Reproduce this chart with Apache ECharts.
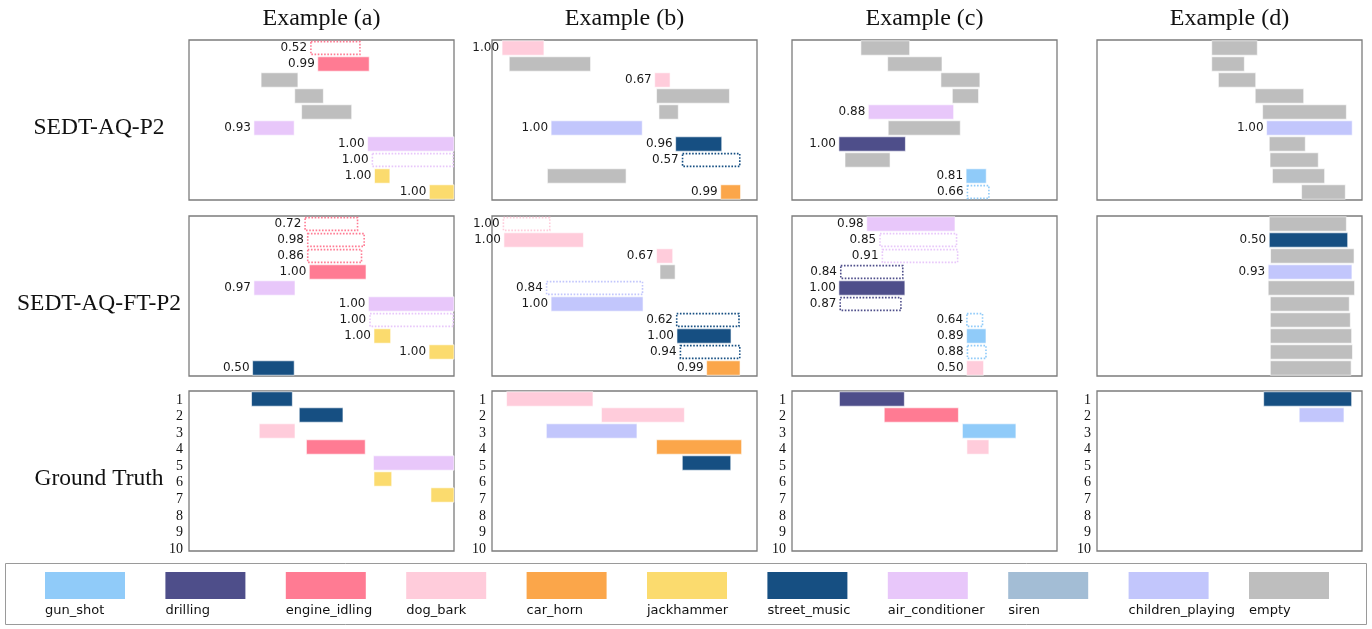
<!DOCTYPE html>
<html><head><meta charset="utf-8">
<script src="https://cdn.jsdelivr.net/npm/echarts@6/dist/echarts.min.js"></script>
<style>html,body{margin:0;padding:0;background:#fff}#c{width:1372px;height:629px}</style>
</head><body><div id="c"></div><script>
const classes = ['gun_shot','drilling','engine_idling','dog_bark','car_horn','jackhammer','street_music','air_conditioner','siren','children_playing','empty'];
const classColors = ['#90CBF9','#4E4E8A','#FF7B93','#FFCCDB','#FBA64A','#FBDB6E','#164F82','#E8C7FA','#A3BDD5','#C2C6FC','#BEBEBE'];
const columnTitles = ['Example (a)','Example (b)','Example (c)','Example (d)'];
const rowTitles = ['SEDT-AQ-P2','SEDT-AQ-FT-P2','Ground Truth'];
const gtTicks = ['1','2','3','4','5','6','7','8','9','10'];

// event: [row, onset, offset, class, score, solid(1)/dotted(0)]
const p2_a = [
  [1,4.57,6.48,'engine_idling',0.52,0],
  [2,4.86,6.80,'engine_idling',0.99,1],
  [3,2.72,4.11,'empty'],
  [4,3.99,5.07,'empty'],
  [5,4.25,6.14,'empty'],
  [6,2.45,3.97,'air_conditioner',0.93,1],
  [7,6.74,10,'air_conditioner',1.00,1],
  [8,6.89,10,'air_conditioner',1.00,0],
  [9,7.00,7.58,'jackhammer',1.00,1],
  [10,9.07,10,'jackhammer',1.00,1]
];
const ft_a = [
  [1,4.35,6.39,'engine_idling',0.72,0],
  [2,4.45,6.64,'engine_idling',0.98,0],
  [3,4.45,6.54,'engine_idling',0.86,0],
  [4,4.54,6.68,'engine_idling',1.00,1],
  [5,2.45,4.00,'air_conditioner',0.97,1],
  [6,6.77,10,'air_conditioner',1.00,1],
  [7,6.80,10,'air_conditioner',1.00,0],
  [8,6.98,7.61,'jackhammer',1.00,1],
  [9,9.06,10,'jackhammer',1.00,1],
  [10,2.40,3.97,'street_music',0.50,1]
];
const gt_a = [
  [1,2.36,3.90,'street_music'],
  [2,4.16,5.81,'street_music'],
  [3,2.65,4.00,'dog_bark'],
  [4,4.43,6.65,'engine_idling'],
  [5,6.96,10,'air_conditioner'],
  [6,6.98,7.65,'jackhammer'],
  [7,9.13,10,'jackhammer']
];
const p2_b = [
  [1,0.38,1.96,'dog_bark',1.00,1],
  [2,0.65,3.72,'empty'],
  [3,6.14,6.72,'dog_bark',0.67,1],
  [4,6.21,8.96,'empty'],
  [5,6.30,7.03,'empty'],
  [6,2.23,5.67,'children_playing',1.00,1],
  [7,6.93,8.67,'street_music',0.96,1],
  [8,7.16,9.38,'street_music',0.57,0],
  [9,2.09,5.06,'empty'],
  [10,8.63,9.38,'car_horn',0.99,1]
];
const ft_b = [
  [1,0.40,2.21,'dog_bark',1.00,0],
  [2,0.45,3.45,'dog_bark',1.00,1],
  [3,6.21,6.82,'dog_bark',0.67,1],
  [4,6.34,6.91,'empty'],
  [5,2.03,5.71,'children_playing',0.84,0],
  [6,2.23,5.70,'children_playing',1.00,1],
  [7,6.94,9.35,'street_music',0.62,0],
  [8,6.98,9.02,'street_music',1.00,1],
  [9,7.08,9.38,'street_music',0.94,0],
  [10,8.10,9.36,'car_horn',0.99,1]
];
const gt_b = [
  [1,0.55,3.81,'dog_bark'],
  [2,4.13,7.26,'dog_bark'],
  [3,2.05,5.47,'children_playing'],
  [4,6.21,9.42,'car_horn'],
  [5,7.18,9.01,'street_music']
];
const p2_c = [
  [1,2.60,4.44,'empty'],
  [2,3.61,5.66,'empty'],
  [3,5.62,7.09,'empty'],
  [4,6.05,7.04,'empty'],
  [5,2.88,6.10,'air_conditioner',0.88,1],
  [6,3.63,6.35,'empty'],
  [7,1.77,4.28,'drilling',1.00,1],
  [8,2.00,3.70,'empty'],
  [9,6.57,7.33,'gun_shot',0.81,1],
  [10,6.59,7.46,'gun_shot',0.66,0]
];
const ft_c = [
  [1,2.82,6.15,'air_conditioner',0.98,1],
  [2,3.29,6.24,'air_conditioner',0.85,0],
  [3,3.38,6.28,'air_conditioner',0.91,0],
  [4,1.81,4.21,'drilling',0.84,0],
  [5,1.77,4.26,'drilling',1.00,1],
  [6,1.79,4.14,'drilling',0.87,0],
  [7,6.57,7.22,'gun_shot',0.64,0],
  [8,6.59,7.32,'gun_shot',0.89,1],
  [9,6.59,7.35,'gun_shot',0.88,0],
  [10,6.59,7.23,'dog_bark',0.50,1]
];
const gt_c = [
  [1,1.79,4.24,'drilling'],
  [2,3.48,6.28,'engine_idling'],
  [3,6.43,8.45,'gun_shot'],
  [4,6.60,7.43,'dog_bark']
];
const p2_d = [
  [1,4.33,6.05,'empty'],
  [2,4.33,5.56,'empty'],
  [3,4.58,5.99,'empty'],
  [4,5.97,7.80,'empty'],
  [5,6.25,9.41,'empty'],
  [6,6.40,9.63,'children_playing',1.00,1],
  [7,6.50,7.86,'empty'],
  [8,6.53,8.35,'empty'],
  [9,6.62,8.59,'empty'],
  [10,7.72,9.37,'empty']
];
const ft_d = [
  [1,6.50,9.41,'empty'],
  [2,6.50,9.46,'street_music',0.50,1],
  [3,6.55,9.70,'empty'],
  [4,6.46,9.62,'children_playing',0.93,1],
  [5,6.46,9.72,'empty'],
  [6,6.54,9.52,'empty'],
  [7,6.54,9.56,'empty'],
  [8,6.54,9.61,'empty'],
  [9,6.54,9.64,'empty'],
  [10,6.54,9.59,'empty']
];
const gt_d = [
  [1,6.29,9.61,'street_music'],
  [2,7.63,9.32,'children_playing']
];

const panels = [
  [p2_a, p2_b, p2_c, p2_d],
  [ft_a, ft_b, ft_c, ft_d],
  [gt_a, gt_b, gt_c, gt_d]
];

// layout
const colLeft = [189, 492, 792, 1097];
const panelW = 265;
const rowTop = [40, 216, 391];
const panelH = 160;

function makeRender(events){
  return function(params, api){
    const ev = events[params.dataIndex];
    const row = ev[0], on = ev[1], off = ev[2], cls = ev[3];
    const score = ev[4];
    const solid = ev[5] === undefined ? 1 : ev[5];
    const color = classColors[classes.indexOf(cls)];
    const p0 = api.coord([on, row - 1 + 0.05]);
    const p1 = api.coord([off, row - 0.05]);
    const y0 = Math.min(p0[1], p1[1]), h = Math.abs(p1[1] - p0[1]);
    const children = [];
    if (solid) {
      children.push({type:'rect', shape:{x:p0[0], y:y0, width:p1[0]-p0[0], height:h},
        style:{fill:color, stroke:'rgba(255,255,255,0.6)', lineWidth:1}});
    } else {
      children.push({type:'rect', shape:{x:p0[0]+0.8, y:y0+0.8, width:p1[0]-p0[0]-1.6, height:h-1.6},
        style:{fill:'none', stroke:color, lineWidth:1.6, lineDash:[1.6,1.6]}});
    }
    if (score !== undefined && score !== null) {
      children.push({type:'text', x:p0[0]-3, y:y0 + h/2,
        style:{text:score.toFixed(2), align:'right', verticalAlign:'middle',
          font:'12px "DejaVu Sans"', fill:'#1a1a1a'}});
    }
    return {type:'group', children};
  };
}

const grid = [], xAxis = [], yAxis = [], series = [];
panels.forEach((rowPanels, r) => {
  rowPanels.forEach((events, c) => {
    const gi = grid.length;
    grid.push({left:colLeft[c], top:rowTop[r], width:panelW, height:panelH, show:true,
      borderColor:'#7c7c7c', borderWidth:1.3, backgroundColor:'#fff'});
    xAxis.push({gridIndex:gi, type:'value', min:0, max:10, show:false});
    yAxis.push({gridIndex:gi, type:'value', min:0, max:10, inverse:true, show:false});
    series.push({type:'custom', xAxisIndex:gi, yAxisIndex:gi, clip:false,
      data: events.map(e => [e[1], e[2], e[0] - 0.5]),
      encode:{x:[0,1], y:2}, renderItem: makeRender(events), silent:true, animation:false});
  });
});
// ground-truth tick label axes
colLeft.forEach((l) => {
  const gi = grid.length;
  grid.push({left:l, top:391.7, width:panelW, height:165.6, show:false});
  xAxis.push({gridIndex:gi, type:'value', min:0, max:10, show:false});
  yAxis.push({gridIndex:gi, type:'category', data:gtTicks, inverse:true,
    axisLine:{show:false}, axisTick:{show:false}, splitLine:{show:false},
    axisLabel:{interval:0, fontFamily:'Liberation Serif', fontSize:14, color:'#111', margin:6}});
});

const graphic = [];
columnTitles.forEach((t, c) => {
  graphic.push({type:'text', x:colLeft[c] + panelW/2, y:19,
    style:{text:t, align:'center', verticalAlign:'middle', font:'24px "Liberation Serif"', fill:'#111'}});
});
rowTitles.forEach((t, r) => {
  graphic.push({type:'text', x:99, y:rowTop[r] + 88,
    style:{text:t, align:'center', verticalAlign:'middle', font:'23.5px "Liberation Serif"', fill:'#111'}});
});
// legend box
graphic.push({type:'rect', shape:{x:5.5, y:563.5, width:1361, height:61},
  style:{fill:'none', stroke:'#9a9a9a', lineWidth:1}});
classes.forEach((name, i) => {
  const x = 45 + i * 120.4;
  graphic.push({type:'rect', shape:{x:x, y:572, width:80, height:27}, style:{fill:classColors[i]}});
  graphic.push({type:'text', x:x, y:611,
    style:{text:name, align:'left', verticalAlign:'middle', font:'13px "DejaVu Sans"', fill:'#111'}});
});

const chart = echarts.init(document.getElementById('c'), null, {renderer:'canvas'});
chart.setOption({animation:false, grid, xAxis, yAxis, series, graphic});
</script></body></html>
